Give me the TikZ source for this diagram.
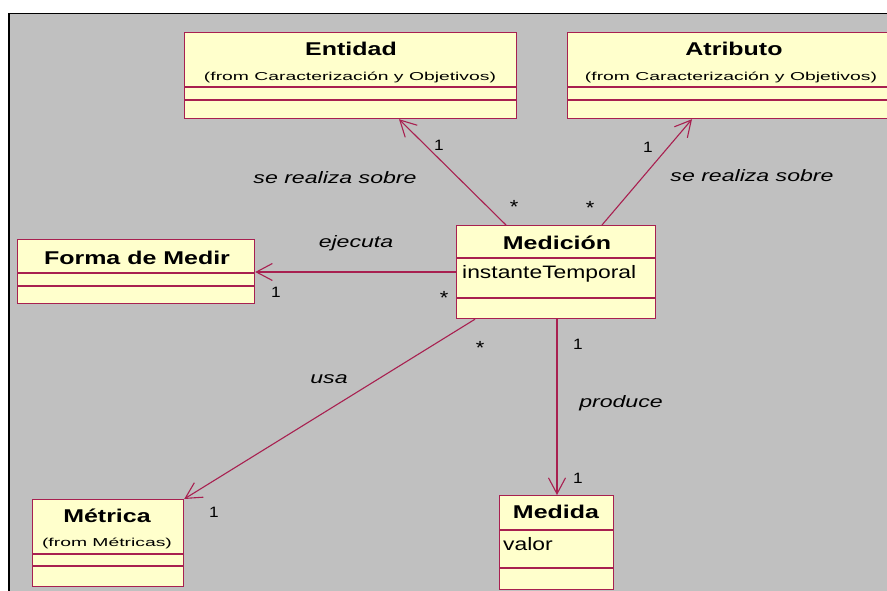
\documentclass[tikz,border=0pt]{standalone}
\usepackage{fontspec}
\setmainfont{Liberation Sans}
\newfontfamily\ftitle[FakeStretch=1.35]{Liberation Sans}
\newfontfamily\fattr[FakeStretch=1.27]{Liberation Sans}
\newfontfamily\flabel[FakeStretch=1.4]{Liberation Sans}
\newfontfamily\fsub[FakeStretch=1.68]{Liberation Sans}
\newfontfamily\fmult[FakeStretch=1.15]{Liberation Sans}
\usetikzlibrary{arrows.meta}
\definecolor{umlred}{RGB}{168,32,80}
\definecolor{umlfill}{RGB}{255,255,204}
\definecolor{bggray}{RGB}{192,192,192}
\tikzset{
  cls/.style={draw=umlred, fill=umlfill, line width=1.2pt, inner sep=0pt, anchor=north west},
  divl/.style={draw=umlred, line width=1.2pt},
  ttl/.style={font=\ftitle\bfseries\fontsize{18.5}{20}\selectfont, inner sep=0pt},
  sub/.style={font=\fsub\fontsize{11.5}{13}\selectfont, inner sep=0pt},
  attr/.style={font=\fattr\fontsize{18}{20}\selectfont, inner sep=0pt, anchor=west},
  lbl/.style={font=\flabel\itshape\fontsize{16.5}{18}\selectfont, inner sep=0pt},
  mult/.style={font=\fmult\fontsize{15}{17}\selectfont, inner sep=0pt},
  multstar/.style={font=\fmult\fontsize{19}{21}\selectfont, inner sep=0pt, yshift=-2pt},
  assoc/.style={draw=umlred, line width=1.1pt, -{Straight Barb[length=16pt,width=17pt,line width=1.1pt]}},
}
\begin{document}
\begin{tikzpicture}[x=1pt,y=-1pt]
\useasboundingbox (0,0) rectangle (887,591);
\begin{scope}
\clip (0,0) rectangle (887,591);
\fill[white] (0,0) rectangle (887,591);
\fill[bggray] (10,14) rectangle (887,591);
\draw[black, line width=1.6pt] (9,591) -- (9,13.5) -- (887,13.5);

% Entidad
\node[cls, minimum width=332pt, minimum height=86pt] (ent) at (184,32) {};
\draw[divl] (184,87) -- (516,87);
\draw[divl] (184,100) -- (516,100);
\node[ttl] (entT) at (351,49) {Entidad};
\node[sub] (entS) at (350,77) {(from Caracterización y Objetivos)};

% Atributo
\node[cls, minimum width=340pt, minimum height=86pt] (atr) at (567,32) {};
\draw[divl] (567,87) -- (907,87);
\draw[divl] (567,100) -- (907,100);
\node[ttl] (atrT) at (734,49) {Atributo};
\node[sub] (atrS) at (731,77) {(from Caracterización y Objetivos)};

% Forma de Medir
\node[cls, minimum width=237pt, minimum height=64pt] (for) at (17,239) {};
\draw[divl] (17,273) -- (254,273);
\draw[divl] (17,286) -- (254,286);
\node[ttl] (forT) at (137,258) {Forma de Medir};

% Medicion
\node[cls, minimum width=199pt, minimum height=93pt] (med) at (456,225) {};
\draw[divl] (456,258) -- (655,258);
\draw[divl] (456,298) -- (655,298);
\node[ttl] (medT) at (557,243) {Medición};
\node[attr] (medA) at (462,274) {instanteTemporal};

% Metrica
\node[cls, minimum width=151pt, minimum height=87pt] (met) at (32,499) {};
\draw[divl] (32,554) -- (183,554);
\draw[divl] (32,566) -- (183,566);
\node[ttl] (metT) at (107,516) {Métrica};
\node[sub] (metS) at (107,543) {(from Métricas)};

% Medida
\node[cls, minimum width=114pt, minimum height=94pt] (mda) at (499,495) {};
\draw[divl] (499,530) -- (613,530);
\draw[divl] (499,568) -- (613,568);
\node[ttl] (mdaT) at (556,512) {Medida};
\node[attr] (mdaA) at (503,544) {valor};

% connectors
\draw[assoc] ([xshift=50pt]med.north west) -- ([xshift=215pt]ent.south west);
\draw[assoc] ([xshift=146pt]med.north west) -- ([xshift=125pt]atr.south west);
\draw[assoc] ([yshift=-47pt]med.north west) -- ([yshift=-33pt]for.north east);
\draw[assoc] ([xshift=19pt]med.south west) -- (met.north east);
\draw[assoc] ([xshift=101pt]med.south west) -- ([xshift=58pt]mda.north west);

% labels
\node[lbl] (l1) at (335,178) {se realiza sobre};
\node[lbl] (l2) at (752,176) {se realiza sobre};
\node[lbl] (l3) at (356,243) {ejecuta};
\node[lbl] (l4) at (329,379) {usa};
\node[lbl] (l5) at (621,403) {produce};

\node[mult] (m1) at (439,145) {1};
\node[multstar] (m2) at (514,205) {*};
\node[mult] (m3) at (648,147) {1};
\node[multstar] (m4) at (590,206) {*};
\node[mult] (m5) at (276,292) {1};
\node[multstar] (m6) at (444,296) {*};
\node[multstar] (m7) at (480,346) {*};
\node[mult] (m8) at (214,512) {1};
\node[mult] (m9) at (578,344) {1};
\node[mult] (m10) at (578,478) {1};
\end{scope}
\end{tikzpicture}
\end{document}
